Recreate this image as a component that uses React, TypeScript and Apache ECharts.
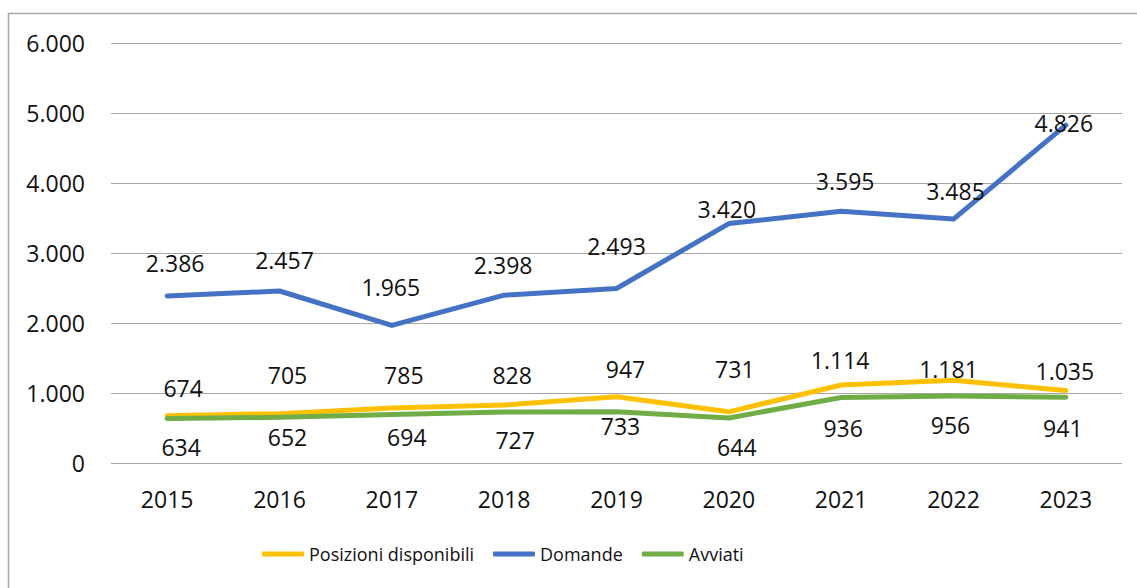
import React, { useEffect, useRef } from "react";
import * as echarts from "echarts";

const categories = ["2015", "2016", "2017", "2018", "2019", "2020", "2021", "2022", "2023"];
const posizioni = [674, 705, 785, 828, 947, 731, 1114, 1181, 1035];
const domande = [2386, 2457, 1965, 2398, 2493, 3420, 3595, 3485, 4826];
const avviati = [634, 652, 694, 727, 733, 644, 936, 956, 941];
const yTicks = { min: 0, max: 6000, interval: 1000 };

// label placement (relative to each point), as in the reference
const offPos = [[16, -28], [8, -39], [12, -33], [8, -30], [9, -28], [6, -43], [-1, -25], [-5, -11], [-1, -20]];
const offDom = [[8, -33], [5, -31], [-1, -38], [-1, -30], [0, -42], [-2, -15], [4, -30], [2, -28], [-2, -2]];
const offAvv = [[14, 28], [8, 20], [15, 23], [11, 28], [4, 14], [8, 29], [2, 31], [-3, 29], [-3, 31]];

const FONT = "'Open Sans', 'Noto Sans', sans-serif";
const fmt = (v: number) => String(Math.round(v)).replace(/\B(?=(\d{3})+(?!\d))/g, ".");

function buildSeries(name: string, values: number[], color: string, offs: number[][]) {
  return {
    name,
    type: "line",
    data: values.map((v, i) => ({
      value: v,
      label: { offset: offs[i] },
    })),
    symbol: "circle",
    symbolSize: 1,
    itemStyle: { color },
    lineStyle: { color, width: 5, cap: "round", join: "round" },
    label: {
      show: true,
      position: "inside",
      color: "#111",
      fontFamily: FONT,
      fontSize: 23,
      formatter: (p: any) => fmt(p.value),
    },
  };
}

export default function App() {
  const ref = useRef<HTMLDivElement>(null);
  useEffect(() => {
    if (!ref.current) return;
    const chart = echarts.init(ref.current, undefined, { renderer: "svg" });
    chart.setOption({
      animation: false,
      backgroundColor: "#fff",
      textStyle: { fontFamily: FONT },
      graphic: [
        {
          type: "rect",
          silent: true,
          shape: { x: 8.5, y: 13.5, width: 1200, height: 700 },
          style: { fill: "none", stroke: "#a6a6a6", lineWidth: 1.5 },
        },
      ],
      grid: { left: 111, right: 15, top: 43, bottom: 125 },
      legend: {
        data: ["Posizioni disponibili", "Domande", "Avviati"],
        left: 257,
        top: 538,
        icon: "roundRect",
        itemWidth: 42,
        itemHeight: 5,
        itemGap: 19,
        textStyle: { fontFamily: FONT, fontSize: 18, color: "#111", lineHeight: 22 },
      },
      xAxis: {
        type: "category",
        data: categories,
        boundaryGap: true,
        axisLine: { show: false },
        axisTick: { show: false },
        axisLabel: { color: "#111", fontFamily: FONT, fontSize: 23, margin: 24 },
      },
      yAxis: {
        type: "value",
        min: yTicks.min,
        max: yTicks.max,
        interval: yTicks.interval,
        axisLine: { show: false },
        axisTick: { show: false },
        splitLine: { lineStyle: { color: "#a6a6a6", width: 1.2 } },
        axisLabel: {
          color: "#111",
          fontFamily: FONT,
          fontSize: 23,
          margin: 26,
          formatter: (v: number) => fmt(v),
        },
      },
      series: [
        buildSeries("Posizioni disponibili", posizioni, "#FFC000", offPos),
        buildSeries("Domande", domande, "#4472C4", offDom),
        buildSeries("Avviati", avviati, "#70AD47", offAvv),
      ],
    });
    return () => chart.dispose();
  }, []);
  return (
    <div
      ref={ref}
      style={{ position: "absolute", left: 0, top: 0, width: 1137, height: 588 }}
    />
  );
}
